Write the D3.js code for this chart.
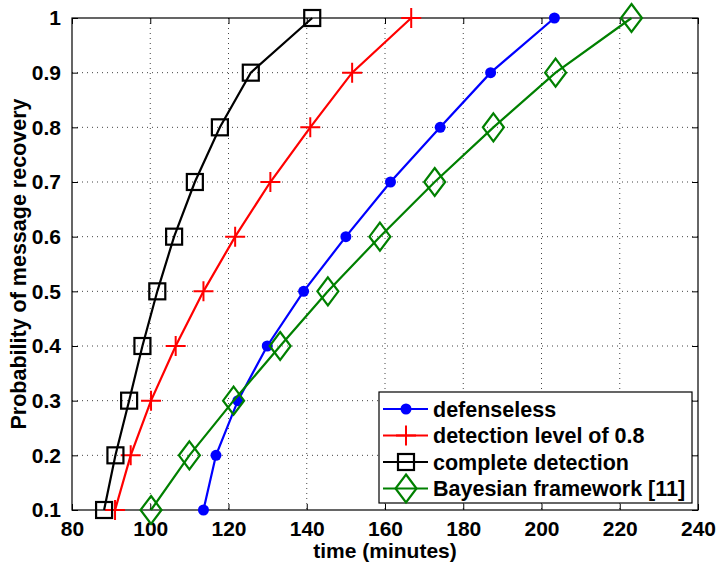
<!DOCTYPE html>
<html>
<head>
<meta charset="utf-8">
<script src="https://cdn.jsdelivr.net/npm/d3@7"></script>
<style>
  body { margin: 0; background: #fff; }
  text { font-family: "Liberation Sans", Arial, Helvetica, sans-serif; font-weight: bold; }
</style>
</head>
<body>
<div id="chart"></div>
<script>
const probs = [0.1, 0.2, 0.3, 0.4, 0.5, 0.6, 0.7, 0.8, 0.9, 1.0];
const defenseless = [113.6, 116.8, 122.4, 129.9, 139.2, 150.0, 161.4, 174.1, 187.0, 203.3];
const detection08 = [91.0, 95.0, 100.2, 106.5, 113.6, 121.7, 130.7, 140.9, 151.6, 166.7];
const complete = [88.2, 91.1, 94.6, 98.0, 101.8, 106.1, 111.4, 117.8, 125.7, 141.4];
const bayesian = [100.2, 110.0, 121.3, 133.2, 145.4, 158.7, 172.7, 187.7, 203.6, 223.0];
const xTicks = [80, 100, 120, 140, 160, 180, 200, 220, 240];
const yTicks = [0.1, 0.2, 0.3, 0.4, 0.5, 0.6, 0.7, 0.8, 0.9, 1];

const series = [
  { name: "defenseless", values: defenseless, color: "#0000ff", marker: "dot" },
  { name: "detection level of 0.8", values: detection08, color: "#ff0000", marker: "plus" },
  { name: "complete detection", values: complete, color: "#000000", marker: "square" },
  { name: "Bayesian framework [11]", values: bayesian, color: "#008000", marker: "diamond" }
];

const svgWidth = 720;
const svgHeight = 570;
const margin = { top: 18, right: 22, bottom: 60, left: 72 };
const width = svgWidth - margin.left - margin.right;
const height = svgHeight - margin.top - margin.bottom;

const svg = d3.select("#chart")
  .append("svg")
  .attr("width", svgWidth)
  .attr("height", svgHeight)
  .append("g")
  .attr("transform", "translate(" + margin.left + "," + margin.top + ")");

const xScale = d3.scaleLinear().domain([80, 240]).range([0, width]);
const yScale = d3.scaleLinear().domain([0.1, 1]).range([height, 0]);

// dotted grid
svg.append("g").selectAll("line")
  .data(xTicks.slice(1, -1))
  .enter().append("line")
  .attr("x1", d => xScale(d)).attr("x2", d => xScale(d))
  .attr("y1", 0).attr("y2", height)
  .attr("stroke", "#444").attr("stroke-width", 1)
  .attr("stroke-dasharray", "1,4");

svg.append("g").selectAll("line")
  .data(yTicks.slice(1, -1))
  .enter().append("line")
  .attr("y1", d => yScale(d)).attr("y2", d => yScale(d))
  .attr("x1", 0).attr("x2", width)
  .attr("stroke", "#444").attr("stroke-width", 1)
  .attr("stroke-dasharray", "1,4");

// axes with inward ticks
const xAxis = d3.axisBottom(xScale).tickValues(xTicks).tickSize(-6).tickPadding(11);
const gx = svg.append("g").attr("transform", "translate(0," + height + ")").call(xAxis);
const xTop = d3.axisTop(xScale).tickValues(xTicks).tickSize(-6).tickFormat("");
const gxt = svg.append("g").call(xTop);

const yAxis = d3.axisLeft(yScale).tickValues(yTicks).tickSize(-6).tickPadding(11)
  .tickFormat(d => d === 1 ? "1" : d3.format(".1f")(d));
const gy = svg.append("g").call(yAxis);
const yRight = d3.axisRight(yScale).tickValues(yTicks).tickSize(-6).tickFormat("");
const gyr = svg.append("g").attr("transform", "translate(" + width + ",0)").call(yRight);

[gx, gxt, gy, gyr].forEach(g => {
  g.select(".domain").remove();
  g.selectAll(".tick line").attr("stroke", "#000").attr("stroke-width", 1);
  g.selectAll("text").attr("fill", "#000").style("font-size", "21px");
});

svg.append("rect")
  .attr("width", width).attr("height", height)
  .attr("fill", "none").attr("stroke", "#000").attr("stroke-width", 1.2);

function drawMarker(g, type, color) {
  if (type === "dot") {
    g.append("circle").attr("r", 5.5).attr("fill", color);
  } else if (type === "plus") {
    g.append("path").attr("d", "M-10,0H10M0,-10V10")
      .attr("stroke", color).attr("stroke-width", 2).attr("fill", "none");
  } else if (type === "square") {
    g.append("rect").attr("x", -8).attr("y", -8).attr("width", 16).attr("height", 16)
      .attr("stroke", color).attr("stroke-width", 2.2).attr("fill", "none");
  } else if (type === "diamond") {
    g.append("path").attr("d", "M0,-14L10.5,0L0,14L-10.5,0Z")
      .attr("stroke", color).attr("stroke-width", 2.2).attr("fill", "none");
  }
}

const line = d3.line()
  .x(d => xScale(d[0]))
  .y(d => yScale(d[1]));

series.forEach(s => {
  const pts = s.values.map((v, i) => [v, probs[i]]);
  const g = svg.append("g");
  g.append("path")
    .datum(pts)
    .attr("d", line)
    .attr("fill", "none")
    .attr("stroke", s.color)
    .attr("stroke-width", 2.2);
  pts.forEach(p => {
    const m = g.append("g").attr("transform", "translate(" + xScale(p[0]) + "," + yScale(p[1]) + ")");
    drawMarker(m, s.marker, s.color);
  });
});

// axis titles
svg.append("text")
  .attr("x", width / 2)
  .attr("y", height + 48)
  .style("text-anchor", "middle")
  .style("font-size", "21px")
  .text("time (minutes)");

svg.append("text")
  .attr("transform", "rotate(-90)")
  .attr("x", -height / 2)
  .attr("y", -46)
  .style("text-anchor", "middle")
  .style("font-size", "21.5px")
  .text("Probability of message recovery");

// legend
const legend = svg.append("g").attr("transform", "translate(" + (379 - margin.left) + "," + (392 - margin.top) + ")");
legend.append("rect")
  .attr("width", 313).attr("height", 111)
  .attr("fill", "#fff").attr("stroke", "#000").attr("stroke-width", 1.2);

series.forEach((s, i) => {
  const row = legend.append("g").attr("transform", "translate(0," + (17 + i * 26.5) + ")");
  row.append("line")
    .attr("x1", 4).attr("x2", 49)
    .attr("stroke", s.color).attr("stroke-width", 2.2);
  const m = row.append("g").attr("transform", "translate(27,0)");
  drawMarker(m, s.marker, s.color);
  row.append("text")
    .attr("x", 54)
    .attr("y", 7.5)
    .style("font-size", "21.5px")
    .text(s.name);
});
</script>
</body>
</html>
